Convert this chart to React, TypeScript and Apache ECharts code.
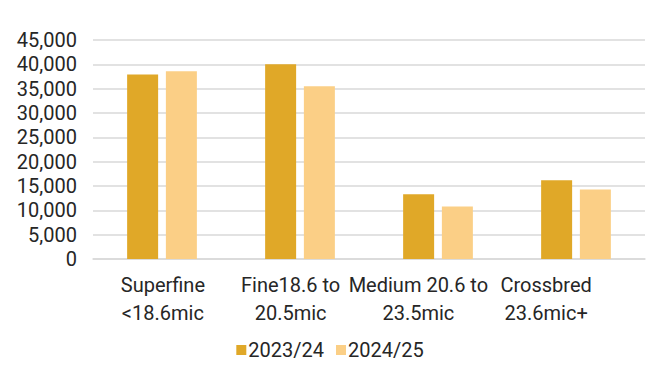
import React, { useEffect, useRef } from "react";
import * as echarts from "echarts";

const categories = ["Superfine\n<18.6mic", "Fine18.6 to\n20.5mic", "Medium 20.6 to\n23.5mic", "Crossbred\n23.6mic+"];
const series2023 = [37900, 40000, 13300, 16200];
const series2024 = [38600, 35500, 10800, 14300];
const seriesNames = ["2023/24", "2024/25"];

export default function App() {
  const ref = useRef<HTMLDivElement>(null);
  useEffect(() => {
    if (!ref.current) return;
    const chart = echarts.init(ref.current, undefined, { renderer: "svg" });
    const font = "Roboto";
    const txt = "#262626";
    chart.setOption({
      animation: false,
      textStyle: { fontFamily: font },
      grid: [
        { left: 93, right: 15, top: 40, bottom: 112 },
        { left: 99, right: 50, top: 40, bottom: 112 },
      ],
      legend: {
        bottom: 6,
        left: "center",
        itemWidth: 10,
        itemHeight: 10,
        itemGap: 12,
        icon: "rect",
        textStyle: { fontSize: 20, color: txt, fontFamily: font, padding: [0, 0, 0, -3] },
        data: seriesNames,
      },
      xAxis: [
        {
          type: "category",
          data: categories,
          gridIndex: 0,
          axisLine: { lineStyle: { color: "#D9D9D9", width: 1.5 } },
          axisTick: { show: false },
          axisLabel: { show: false },
        },
        {
          type: "category",
          data: categories,
          gridIndex: 1,
          axisLine: { show: false },
          axisTick: { show: false },
          axisLabel: { fontSize: 20, color: txt, lineHeight: 28, margin: 12, interval: 0, fontFamily: font },
        },
      ],
      yAxis: [
        {
          type: "value",
          gridIndex: 0,
          min: 0,
          max: 45000,
          interval: 5000,
          axisLine: { show: false },
          axisTick: { show: false },
          splitLine: { lineStyle: { color: "#D9D9D9", width: 1.5 } },
          axisLabel: {
            fontSize: 20,
            color: txt,
            margin: 16,
            fontFamily: font,
            formatter: (v: number) => v.toLocaleString("en-US"),
          },
        },
        {
          type: "value",
          gridIndex: 1,
          min: 0,
          max: 45000,
          show: false,
          splitLine: { show: false },
        },
      ],
      series: [
        {
          name: seriesNames[0],
          type: "bar",
          xAxisIndex: 0,
          yAxisIndex: 0,
          data: series2023,
          barWidth: 31,
          barGap: "25%",
          itemStyle: { color: "#E0A828" },
        },
        {
          name: seriesNames[1],
          type: "bar",
          xAxisIndex: 0,
          yAxisIndex: 0,
          data: series2024,
          barWidth: 31,
          barGap: "25%",
          itemStyle: { color: "#FBCF86" },
        },
      ],
    });
    return () => chart.dispose();
  }, []);
  return <div ref={ref} style={{ width: 660, height: 371, position: "absolute", left: 0, top: 0 }} />;
}
